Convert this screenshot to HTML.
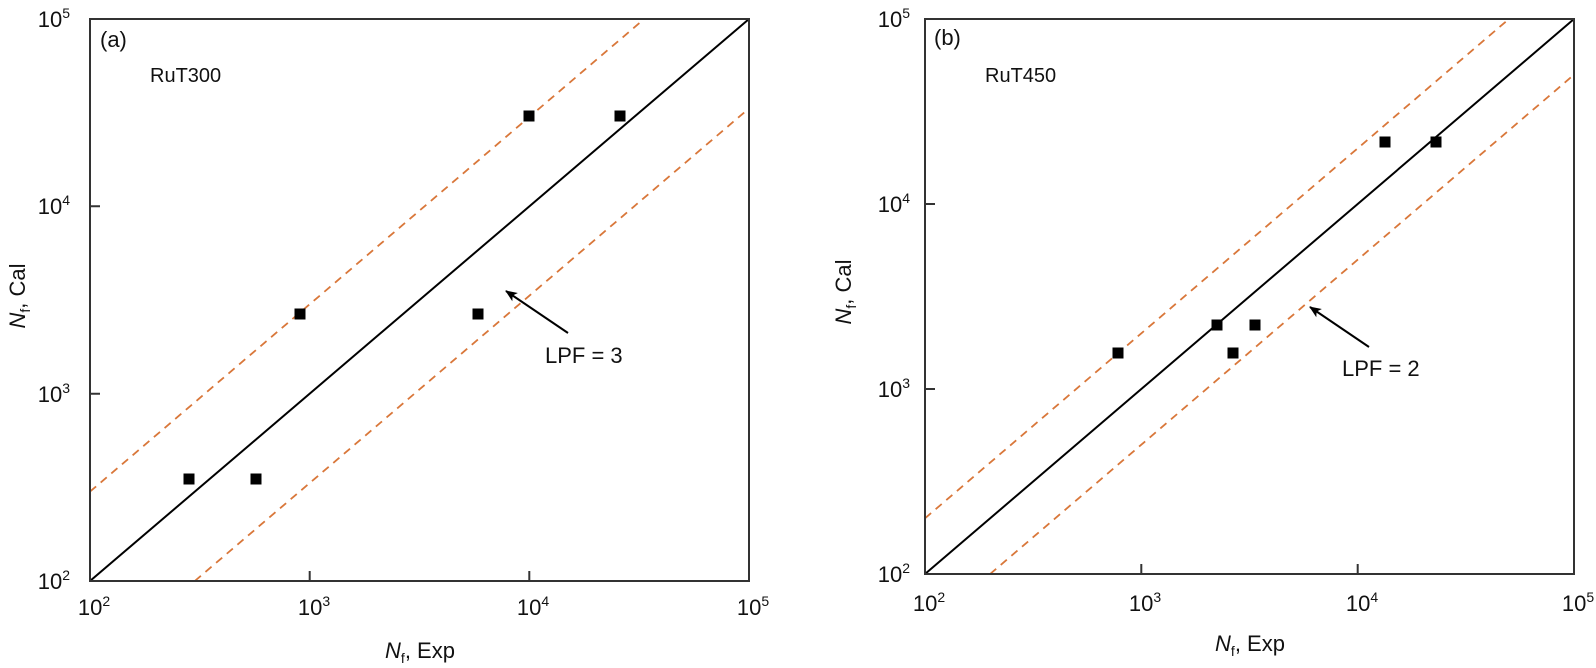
<!DOCTYPE html>
<html><head><meta charset="utf-8"><style>
html,body{margin:0;padding:0;background:#fff;}
svg{display:block;font-family:"Liberation Sans",Arial,sans-serif;}
</style></head><body>
<svg width="1596" height="668" viewBox="0 0 1596 668" xmlns="http://www.w3.org/2000/svg">
<defs><marker id="ah" markerWidth="12" markerHeight="10" refX="11" refY="5" orient="auto" markerUnits="userSpaceOnUse"><path d="M0,0 L12,5 L0,10 L3,5 Z" fill="#000"/></marker></defs>
<g fill="none" stroke-width="2">
<!-- Panel a -->
<line x1="90" y1="491.6" x2="644.2" y2="19" stroke="#d9773a" stroke-dasharray="8,6" stroke-width="1.8"/>
<line x1="194.8" y1="581" x2="749" y2="108.4" stroke="#d9773a" stroke-dasharray="8,6" stroke-width="1.8"/>
<line x1="90" y1="581" x2="749" y2="19" stroke="#000"/>
<rect x="90" y="19" width="659" height="562" stroke="#333"/>
<path d="M309.7 581v-10M529.3 581v-10M90 393.7h10M90 206.3h10" stroke="#333"/>
<!-- Panel b -->
<line x1="925" y1="518.3" x2="1508.9" y2="19" stroke="#d9773a" stroke-dasharray="8,6" stroke-width="1.8"/>
<line x1="990.1" y1="574" x2="1574" y2="74.7" stroke="#d9773a" stroke-dasharray="8,6" stroke-width="1.8"/>
<line x1="925" y1="574" x2="1574" y2="19" stroke="#000"/>
<rect x="925" y="19" width="649" height="555" stroke="#333"/>
<path d="M1141.3 574v-10M1357.7 574v-10M925 389h10M925 204h10" stroke="#333"/>
</g>
<g fill="#000">
<rect x="183.5" y="473.5" width="11" height="11"/>
<rect x="250.5" y="473.5" width="11" height="11"/>
<rect x="294.5" y="308.5" width="11" height="11"/>
<rect x="472.5" y="308.5" width="11" height="11"/>
<rect x="523.5" y="110.5" width="11" height="11"/>
<rect x="614.5" y="110.5" width="11" height="11"/>
<rect x="1112.5" y="347.5" width="11" height="11"/>
<rect x="1211.5" y="319.5" width="11" height="11"/>
<rect x="1249.5" y="319.5" width="11" height="11"/>
<rect x="1227.5" y="347.5" width="11" height="11"/>
<rect x="1379.5" y="136.5" width="11" height="11"/>
<rect x="1430.5" y="136.5" width="11" height="11"/>
</g>
<line x1="568" y1="333" x2="506" y2="291" stroke="#000" stroke-width="2" marker-end="url(#ah)"/>
<line x1="1369" y1="347" x2="1310" y2="307" stroke="#000" stroke-width="2" marker-end="url(#ah)"/>
<g font-size="22" fill="#111">
<text x="545" y="363">LPF = 3</text>
<text x="1342" y="376">LPF = 2</text>
<text x="100" y="47">(a)</text>
<text x="150" y="82" font-size="20">RuT300</text>
<text x="934" y="45">(b)</text>
<text x="985" y="82" font-size="20">RuT450</text>
<!-- panel a y ticks -->
<g text-anchor="end">
<text x="70" y="27">10<tspan font-size="14" dy="-9">5</tspan></text>
<text x="70" y="214">10<tspan font-size="14" dy="-9">4</tspan></text>
<text x="70" y="402">10<tspan font-size="14" dy="-9">3</tspan></text>
<text x="70" y="589">10<tspan font-size="14" dy="-9">2</tspan></text>
<text x="910" y="27">10<tspan font-size="14" dy="-9">5</tspan></text>
<text x="910" y="212">10<tspan font-size="14" dy="-9">4</tspan></text>
<text x="910" y="397">10<tspan font-size="14" dy="-9">3</tspan></text>
<text x="910" y="582">10<tspan font-size="14" dy="-9">2</tspan></text>
</g>
<g text-anchor="middle">
<text x="94" y="615">10<tspan font-size="14" dy="-9">2</tspan></text>
<text x="314" y="615">10<tspan font-size="14" dy="-9">3</tspan></text>
<text x="533" y="615">10<tspan font-size="14" dy="-9">4</tspan></text>
<text x="753" y="615">10<tspan font-size="14" dy="-9">5</tspan></text>
<text x="929" y="611">10<tspan font-size="14" dy="-9">2</tspan></text>
<text x="1145" y="611">10<tspan font-size="14" dy="-9">3</tspan></text>
<text x="1362" y="611">10<tspan font-size="14" dy="-9">4</tspan></text>
<text x="1578" y="611">10<tspan font-size="14" dy="-9">5</tspan></text>
<text x="420" y="658"><tspan font-style="italic">N</tspan><tspan font-size="14" dy="5">f</tspan><tspan dy="-5">, Exp</tspan></text>
<text x="1250" y="651"><tspan font-style="italic">N</tspan><tspan font-size="14" dy="5">f</tspan><tspan dy="-5">, Exp</tspan></text>
<text transform="translate(25,296) rotate(-90)"><tspan font-style="italic">N</tspan><tspan font-size="14" dy="5">f</tspan><tspan dy="-5">, Cal</tspan></text>
<text transform="translate(851,292) rotate(-90)"><tspan font-style="italic">N</tspan><tspan font-size="14" dy="5">f</tspan><tspan dy="-5">, Cal</tspan></text>
</g>
</g>
</svg>
</body></html>
